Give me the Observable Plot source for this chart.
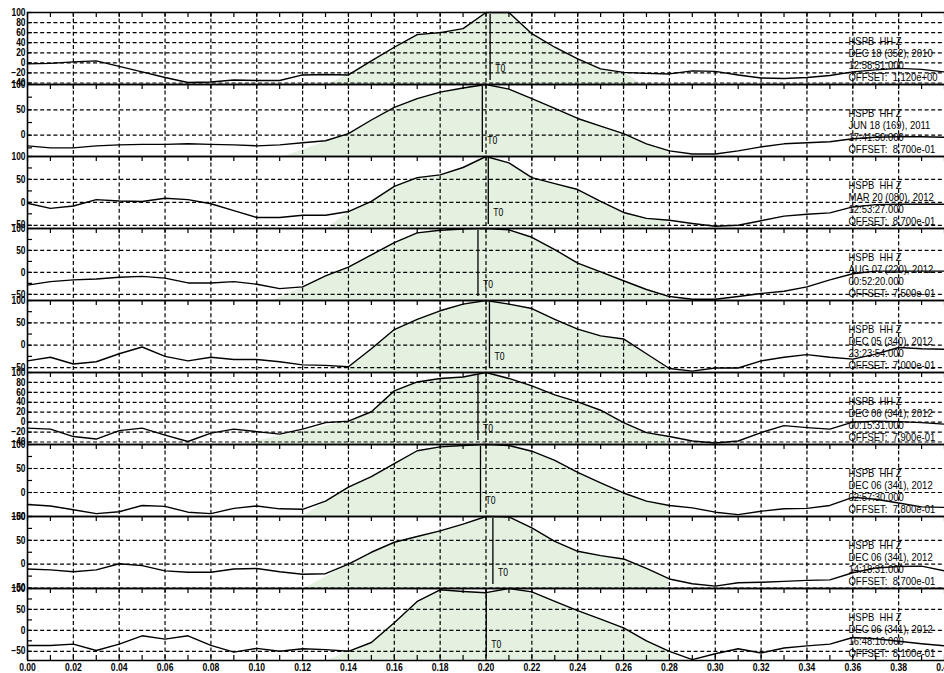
<!DOCTYPE html>
<html>
<head>
<meta charset="utf-8">
<script src="https://cdn.jsdelivr.net/npm/d3@7"></script>
<script src="https://cdn.jsdelivr.net/npm/@observablehq/plot@0.6"></script>
<style>
  html, body { margin: 0; padding: 0; background: #fff; overflow: hidden; }
  #chart { width: 944px; }
  #chart svg { display: block; overflow: visible; }
</style>
</head>
<body>
<div id="chart"></div>
<script>
// Sample times (s) of every trace
const times = [0.00, 0.01, 0.02, 0.03, 0.04, 0.05, 0.06, 0.07, 0.08, 0.09,
               0.10, 0.11, 0.12, 0.13, 0.14, 0.15, 0.16, 0.17, 0.18, 0.19,
               0.20, 0.21, 0.22, 0.23, 0.24, 0.25, 0.26, 0.27, 0.28, 0.29,
               0.30, 0.31, 0.32, 0.33, 0.34, 0.35, 0.36, 0.37, 0.38, 0.39, 0.40];

// Normalised amplitudes, one array per record
const trace1 = [-2, -1, 2, 4, -7, -18, -29, -39, -38, -34, -35, -35, -24, -23, -24, 4, 31, 56, 60, 68,
                100, 100, 58, 31, 8, -12, -19, -21, -22, -16, -17, -24, -30, -31, -29, -25, -18, -14, -11, -13, -18];
const trace2 = [-21, -25, -25, -21, -19, -18, -18, -17, -18, -19, -21, -19, -15, -11, 3, 30, 55, 72, 85, 93,
                100, 91, 72, 53, 33, 18, 3, -17, -31, -37, -37, -31, -23, -17, -15, -13, -7, -4, -3, -3, -4];
const trace3 = [-2, -13, -8, 6, 3, 2, 9, 6, -3, -18, -33, -33, -28, -28, -20, 2, 35, 54, 60, 76,
                100, 86, 54, 41, 28, 2, -22, -35, -39, -46, -52, -50, -40, -30, -26, -23, -10, -5, -4, -4, -4];
const trace4 = [-29, -21, -17, -15, -11, -9, -13, -24, -24, -21, -27, -37, -33, -8, 12, 40, 68, 90, 96, 99,
                100, 97, 80, 52, 21, 1, -19, -39, -55, -61, -61, -55, -48, -43, -33, -17, -3, 3, 3, 3, 3];
const trace5 = [-35, -27, -42, -37, -19, -4, -25, -35, -27, -32, -32, -37, -44, -45, -48, -8, 35, 58, 77, 92,
                100, 92, 82, 58, 36, 21, 14, -19, -52, -58, -51, -51, -35, -27, -21, -27, -31, -20, -5, -8, -9];
const trace6 = [-12, -14, -29, -34, -17, -12, -26, -39, -22, -14, -19, -24, -14, -1, 2, 21, 63, 81, 88, 91,
                100, 88, 73, 55, 41, 24, -1, -21, -29, -38, -42, -38, -21, -7, -11, -14, 0, 2, 1, -1, -4];
const trace7 = [-25, -28, -36, -44, -40, -27, -29, -41, -44, -33, -28, -34, -35, -18, 11, 33, 60, 87, 95, 98,
                100, 98, 86, 67, 42, 20, -1, -18, -27, -32, -41, -46, -39, -34, -33, -27, -10, -14, -22, -30, -31];
const trace8 = [-10, -12, -16, -12, 1, -3, -14, -17, -17, -10, -9, -16, -21, -20, 0, 25, 46, 58, 70, 84,
                100, 99, 76, 48, 27, 18, 11, -9, -31, -41, -46, -39, -38, -36, -34, -33, -18, -8, -5, -4, -14];
const trace9 = [-36, -36, -33, -48, -33, -13, -21, -13, -36, -52, -43, -50, -44, -46, -50, -29, 18, 69, 97, 93,
                90, 100, 92, 69, 47, 27, 6, -25, -50, -70, -56, -44, -54, -42, -37, -33, -17, -20, -26, -32, -37];

// Lower limit of each record's amplitude axis (upper limit is 100)
const yMin = [-43, -42, -57, -64, -61, -45, -50, -51, -72];

// Amplitude tick sets
const ticks20 = [100, 80, 60, 40, 20, 0, -20, -40];
const ticks50 = [100, 50, 0, -50];
const minor50 = [75, 25, -25];
const tickSet = [ticks20, ticks50, ticks50, ticks50, ticks50, ticks20, ticks50, ticks50, ticks50];

// Time axis ticks
const xTicks = [0.00, 0.02, 0.04, 0.06, 0.08, 0.10, 0.12, 0.14, 0.16, 0.18, 0.20,
                0.22, 0.24, 0.26, 0.28, 0.30, 0.32, 0.34, 0.36, 0.38, 0.40];
const xMinor = [0.01, 0.03, 0.05, 0.07, 0.09, 0.11, 0.13, 0.15, 0.17, 0.19,
                0.21, 0.23, 0.25, 0.27, 0.29, 0.31, 0.33, 0.35, 0.37, 0.39];

// T0 pick of each record
const t0 = [0.2018, 0.1984, 0.2010, 0.1965, 0.2015, 0.1965, 0.1976, 0.2030, 0.2001];

// Analysis window: shaded from the picked samples down to the axis floor
const winStart = [0.14, 0.14, 0.14, 0.14, 0.14, 0.14, 0.14, 0.14, 0.14];
const winEnd   = [0.26, 0.28, 0.28, 0.28, 0.28, 0.28, 0.28, 0.28, 0.28];
const fillFrom = [0.131, 0.112, 0.131, 0.107, 0.140, 0.093, 0.120, 0.121, 0.131];
const fillTo   = [0.268, 0.281, 0.278, 0.280, 0.280, 0.280, 0.280, 0.280, 0.280];

// Record headers
const station = "HSPB  HH Z";
const dates = ["DEC 18 (352), 2010", "JUN 18 (169), 2011", "MAR 20 (080), 2012",
               "AUG 07 (220), 2012", "DEC 05 (340), 2012", "DEC 06 (341), 2012",
               "DEC 06 (341), 2012", "DEC 06 (341), 2012", "DEC 06 (341), 2012"];
const clocks = ["12:58:51.000", "17:41:50.000", "12:53:27.000", "00:52:20.000", "23:23:54.000",
                "00:15:31.000", "02:57:30.000", "14:18:31.000", "16:48:10.000"];
const offsets = ["1.120e+00", "8.700e-01", "8.700e-01", "7.500e-01", "7.000e-01",
                 "7.900e-01", "7.800e-01", "8.700e-01", "8.100e-01"];

const traces = [trace1, trace2, trace3, trace4, trace5, trace6, trace7, trace8, trace9];

const FONT = '"Liberation Sans", Arial, sans-serif';
const INK = "#000";
const GREEN = "#e4f1e1";
const DASH = "4,2.6";
const PANEL = 72;

// Narrow the lettering the way the plotting font draws it
const narrow = {"text": 0.86, "y-axis tick label": 0.84, "x-axis tick label": 0.78};
function condense(svg) {
  svg.querySelectorAll("g[aria-label]").forEach(g => {
    const k = narrow[g.getAttribute("aria-label")];
    if (!k) return;
    g.querySelectorAll("text").forEach(t => {
      const w = t.getComputedTextLength();
      if (w > 0) {
        t.setAttribute("textLength", (w * k).toFixed(2));
        t.setAttribute("lengthAdjust", "spacingAndGlyphs");
      }
    });
  });
}

const chart = document.getElementById("chart");

traces.forEach((vals, i) => {
  const first = i === 0;
  const last = i === traces.length - 1;
  const lo = yMin[i];
  const series = times.map((t, j) => ({t, v: vals[j]}));
  const shaded = [
    {t: fillFrom[i], v: lo},
    ...series.filter(d => d.t >= winStart[i] - 1e-9 && d.t <= winEnd[i] + 1e-9),
    {t: fillTo[i], v: lo}
  ];
  const yt = tickSet[i].filter(d => d >= lo);
  const ytMinor = tickSet[i] === ticks50 ? minor50.filter(d => d >= lo) : [];
  const header = [station, dates[i], clocks[i], "OFFSET:  " + offsets[i]];
  const mt = first ? 12 : 0;
  const mb = last ? 13 : 0;

  const plot = Plot.plot({
    width: 944,
    height: PANEL + mt + mb,
    marginLeft: 27,
    marginRight: 0,
    marginTop: mt,
    marginBottom: mb,
    style: {background: "transparent", overflow: "visible", fontFamily: FONT, fontSize: "11px", color: INK},
    x: {domain: [0, 0.40], axis: null},
    y: {domain: [lo, 100], axis: null},
    marks: [
      Plot.areaY(shaded, {x: "t", y1: lo, y2: "v", fill: GREEN}),
      Plot.ruleX(xTicks.slice(1, -1), {stroke: INK, strokeWidth: 1.2, strokeDasharray: DASH}),
      Plot.ruleY(yt, {stroke: INK, strokeWidth: 1.2, strokeDasharray: DASH}),
      ...header.map((line, k) => Plot.text([line], {
        frameAnchor: "top-right", lineAnchor: "middle", textAnchor: "start",
        dx: -96, dy: 29.2 + 12 * k, fontSize: 11, fill: INK
      })),
      Plot.line(series, {x: "t", y: "v", stroke: INK, strokeWidth: 1.4}),
      Plot.ruleX([t0[i]], {y1: 100, y2: lo, insetTop: 2, insetBottom: 4, stroke: INK, strokeWidth: 1.3}),
      Plot.text(["T0"], {x: t0[i], frameAnchor: "top", lineAnchor: "middle", dy: 56, dx: 5,
                         textAnchor: "start", fontSize: 10, fill: INK}),
      Plot.ruleX([0], {stroke: INK, strokeWidth: 1.6}),
      Plot.ruleY([100], {stroke: INK, strokeWidth: 1.6}),
      Plot.ruleY([lo], {stroke: INK, strokeWidth: 1.6}),
      Plot.tickX([...xTicks, ...xMinor], {stroke: INK, strokeWidth: 1.2, insetBottom: PANEL - 5}),
      Plot.tickY([...yt, ...ytMinor], {stroke: INK, strokeWidth: 1.2, insetRight: 944 - 27 - 5}),
      Plot.axisY(yt, {tickSize: 0, tickPadding: 2, label: null, fontSize: 10, fontWeight: "bold"}),
      last ? Plot.tickX([...xTicks, ...xMinor], {stroke: INK, strokeWidth: 1.2, insetTop: PANEL - 5}) : null,
      last ? Plot.axisX(xTicks, {tickSize: 0, tickPadding: 3, tickFormat: d3.format(".2f"), label: null,
                                 fontSize: 11, fontWeight: "bold"}) : null
    ]
  });
  chart.appendChild(plot);
  condense(plot);
});
</script>
</body>
</html>
